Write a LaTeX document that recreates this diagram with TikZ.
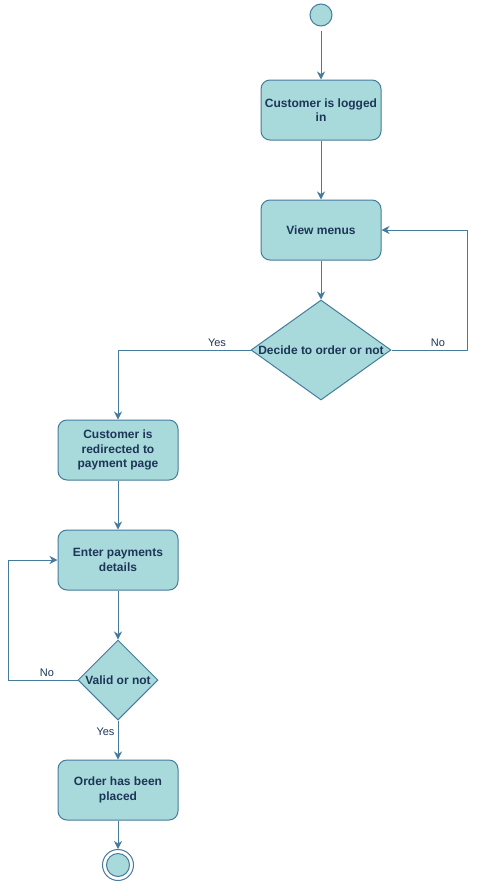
\documentclass[tikz,border=0pt]{standalone}
\usepackage{fontspec}
\setmainfont{Liberation Sans}
\usetikzlibrary{positioning}
\usetikzlibrary{shapes.geometric}
\usetikzlibrary{arrows.meta}
\hyphenpenalty=10000
\exhyphenpenalty=10000
\definecolor{actfill}{HTML}{A8DADC}
\definecolor{actline}{HTML}{457B9D}
\definecolor{acttext}{HTML}{1D3557}
\tikzset{
  activity/.style={draw=actline, fill=actfill, line width=1pt, rounded corners=9pt,
    minimum width=120pt, minimum height=60pt, text width=118pt, inner xsep=1pt, align=flush center,
    text=acttext, font=\bfseries\fontsize{12}{14.5}\selectfont},
  decision/.style={draw=actline, fill=actfill, line width=1pt, diamond, inner sep=0pt},
  flow/.style={draw=actline, line width=1pt, -{Stealth[length=8pt,width=8pt,inset=2.5pt]}},
  guard/.style={text=acttext, font=\fontsize{11}{13}\selectfont}
}
\begin{document}
\begin{tikzpicture}[x=1pt,y=-1pt]
\useasboundingbox (0,0) rectangle (477,881);
\node[draw=actline, fill=actfill, line width=1pt, circle, minimum size=22pt, inner sep=0pt] (start) at (321,15) {};
\node[activity] (login) at (321,110) {Customer is logged in};
\node[activity] (menus) at (321,230) {View menus};
\node[decision, minimum width=140pt, minimum height=100pt,
  label={[text=acttext, font=\bfseries\fontsize{12}{14}\selectfont]center:Decide to order or not}] (decide) at (321,350) {};
\node[activity] (redirect) at (118,450) {Customer is redirected to payment page};
\node[activity] (payment) at (118,560) {Enter payments details};
\node[decision, minimum width=80pt, minimum height=80pt,
  label={[text=acttext, font=\bfseries\fontsize{12}{14}\selectfont]center:Valid or not}] (valid) at (118,680) {};
\node[activity] (placed) at (118,790) {Order has been placed};
\node[draw=actline, fill=white, line width=1pt, circle, minimum size=31pt, inner sep=0pt] (stop) at (118,865) {};
\node[draw=actline, fill=actfill, line width=1pt, circle, minimum size=23pt, inner sep=0pt] at (stop) {};
\coordinate (noturn) at (467,350);
\coordinate (retry) at (8,680);

\draw[flow, shorten <=4pt] (start) -- (login);
\draw[flow] (login) -- (menus);
\draw[flow] (menus) -- (decide);
\draw[flow] (decide.east) -- (noturn) |- (menus.east);
\node[guard, above] at (438,350) {No};
\draw[flow] (decide.west) -| (redirect.north);
\node[guard, above] at (217,350) {Yes};
\draw[flow] (redirect) -- (payment);
\draw[flow] (payment) -- (valid);
\draw[flow] (valid.west) -- (retry) |- (payment.west);
\node[guard, above] at (47,680) {No};
\draw[flow] (valid.south) -- (placed.north);
\node[guard, left] at (118,732) {Yes};
\draw[flow] (placed) -- (stop);
\end{tikzpicture}
\end{document}
